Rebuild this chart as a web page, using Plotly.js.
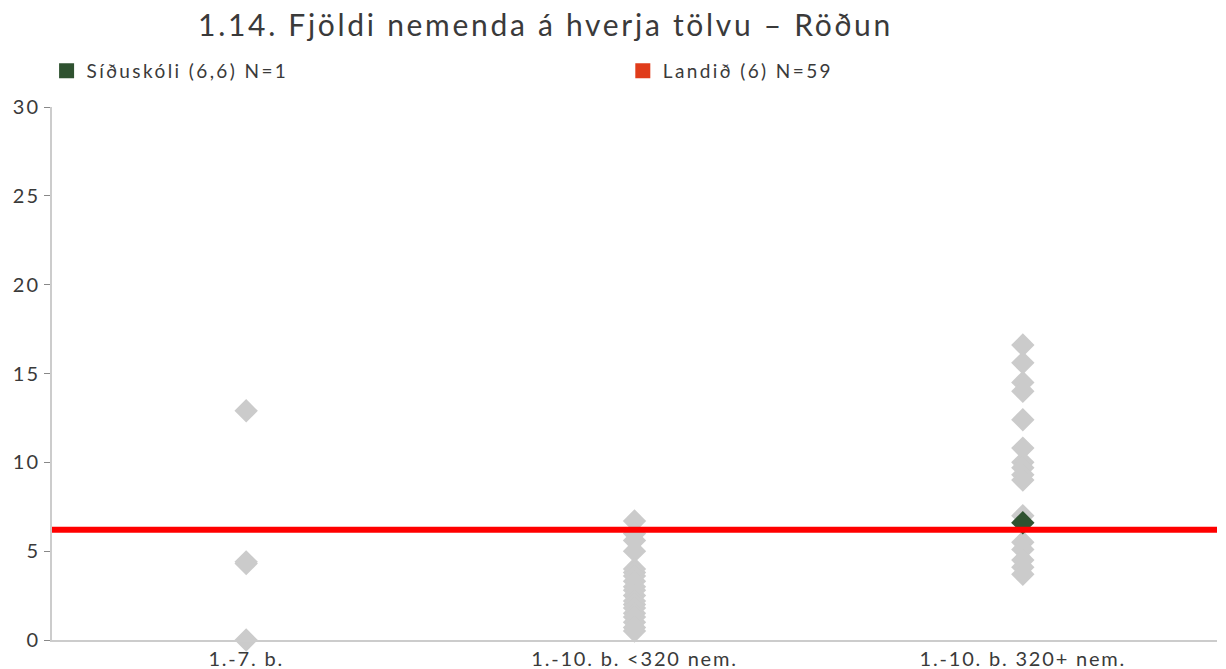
<!DOCTYPE html>
<html>
<head>
<meta charset="utf-8">
<script src="https://cdn.plot.ly/plotly-3.0.1.min.js"></script>
<style>
  html, body { margin: 0; padding: 0; background: #fff; }
  #chart { width: 1226px; height: 669px; }
  /* the source chart has wide letter spacing everywhere */
  #chart .gtitle { letter-spacing: 2.7px; }
  #chart .legendtext, #chart g[class^="legend"] text { letter-spacing: 2.4px; }
  #chart g.xtick text { letter-spacing: 1.8px; }
  #chart g.ytick text { letter-spacing: 2px; }
</style>
</head>
<body>
<div id="chart"></div>
<script>
// categories on the x axis
var categories = ["1.-7. b.", "1.-10. b. <320 nem.", "1.-10. b. 320+ nem."];

// all schools (grey diamonds), one list per category
var vals7 = [12.9, 4.4, 4.3, 0];
var valsSmall = [6.7, 6.0, 5.6, 5.0, 4.0, 3.8, 3.6, 3.3, 3.0, 2.8, 2.5, 2.2, 2.0, 1.8, 1.5, 1.3, 1.0, 0.7, 0.5];
var valsLarge = [16.6, 15.6, 14.5, 14.0, 12.4, 10.8, 10.0, 9.7, 9.3, 9.0, 7.0, 5.5, 5.1, 4.5, 4.1, 3.7];

// the school itself
var schoolName = "Síðuskóli (6,6) N=1";
var schoolCat = ["1.-10. b. 320+ nem."];
var schoolVal = [6.6];

// national average
var countryName = "Landið (6) N=59";
var countryVal = 6.2;

var grey = "#cbcbcb";
var green = "#2f5230";
var red = "#ff0000";
var legendRed = "#e03c1a";
var textColor = "#3a3a3a";

// build x/y lists for grey points from the category arrays
var greyX = [], greyY = [];
[vals7, valsSmall, valsLarge].forEach(function(list, i) {
  list.forEach(function(v) {
    greyX.push(categories[i]);
    greyY.push(v);
  });
});

var traces = [
  {
    x: greyX, y: greyY, type: "scatter", mode: "markers",
    marker: { symbol: "diamond", size: 18, color: grey },
    cliponaxis: false, showlegend: false, hoverinfo: "y"
  },
  {
    x: schoolCat, y: schoolVal, type: "scatter", mode: "markers",
    marker: { symbol: "diamond", size: 18, color: green },
    cliponaxis: false, showlegend: false, hoverinfo: "y"
  },
  // legend entries, each in its own legend box
  {
    x: [null], y: [null], type: "scatter", mode: "markers", name: schoolName,
    marker: { symbol: "square", size: 15, color: green }, legend: "legend"
  },
  {
    x: [null], y: [null], type: "scatter", mode: "markers", name: countryName,
    marker: { symbol: "square", size: 15, color: legendRed }, legend: "legend2"
  }
];

var legendBase = {
  orientation: "h",
  xref: "container", yref: "container",
  y: 0.894, xanchor: "left", yanchor: "middle",
  font: { size: 19, color: textColor },
  itemwidth: 30,
  entrywidth: 280,
  bgcolor: "rgba(0,0,0,0)"
};

var layout = {
  width: 1226,
  height: 669,
  paper_bgcolor: "#fff",
  plot_bgcolor: "#fff",
  font: { family: "Lato, 'Open Sans', sans-serif", color: textColor, size: 20 },
  margin: { l: 52, r: 9, t: 107, b: 29 },
  title: {
    text: "1.14. Fjöldi nemenda á hverja tölvu – Röðun",
    font: { size: 30, color: textColor },
    x: 0.445, xref: "container", xanchor: "center",
    y: 0.962, yref: "container", yanchor: "middle"
  },
  showlegend: true,
  legend: Object.assign({}, legendBase, { x: 0.038 }),
  legend2: Object.assign({}, legendBase, { x: 0.508 }),
  xaxis: {
    type: "category",
    categoryarray: categories,
    range: [-0.5, 2.5],
    showline: true, linecolor: "#cccccc", linewidth: 2,
    showgrid: false, zeroline: false,
    ticks: "", tickfont: { size: 20, color: textColor },
    fixedrange: true
  },
  yaxis: {
    range: [0, 30],
    tickvals: [0, 5, 10, 15, 20, 25, 30],
    showline: true, linecolor: "#cccccc", linewidth: 2,
    showgrid: false, zeroline: false,
    ticks: "outside", ticklen: 6, tickcolor: "#888888", tickwidth: 1,
    tickfont: { size: 20, color: textColor },
    fixedrange: true
  },
  shapes: [
    {
      type: "line", layer: "above",
      xref: "paper", x0: 0, x1: 1,
      yref: "y", y0: countryVal, y1: countryVal,
      line: { color: red, width: 6 }
    }
  ]
};

function spaceLegend() {
  document.querySelectorAll("#chart .infolayer text").forEach(function(t) {
    if (t.closest("g[class^='legend']")) t.setAttribute("letter-spacing", "2.4px");
  });
}

var gd = document.getElementById("chart");
Plotly.newPlot(gd, traces, layout, { displayModeBar: false, staticPlot: true })
  .then(function() {
    spaceLegend();
    gd.on("plotly_afterplot", spaceLegend);
    setTimeout(spaceLegend, 0);
  });
</script>
</body>
</html>
